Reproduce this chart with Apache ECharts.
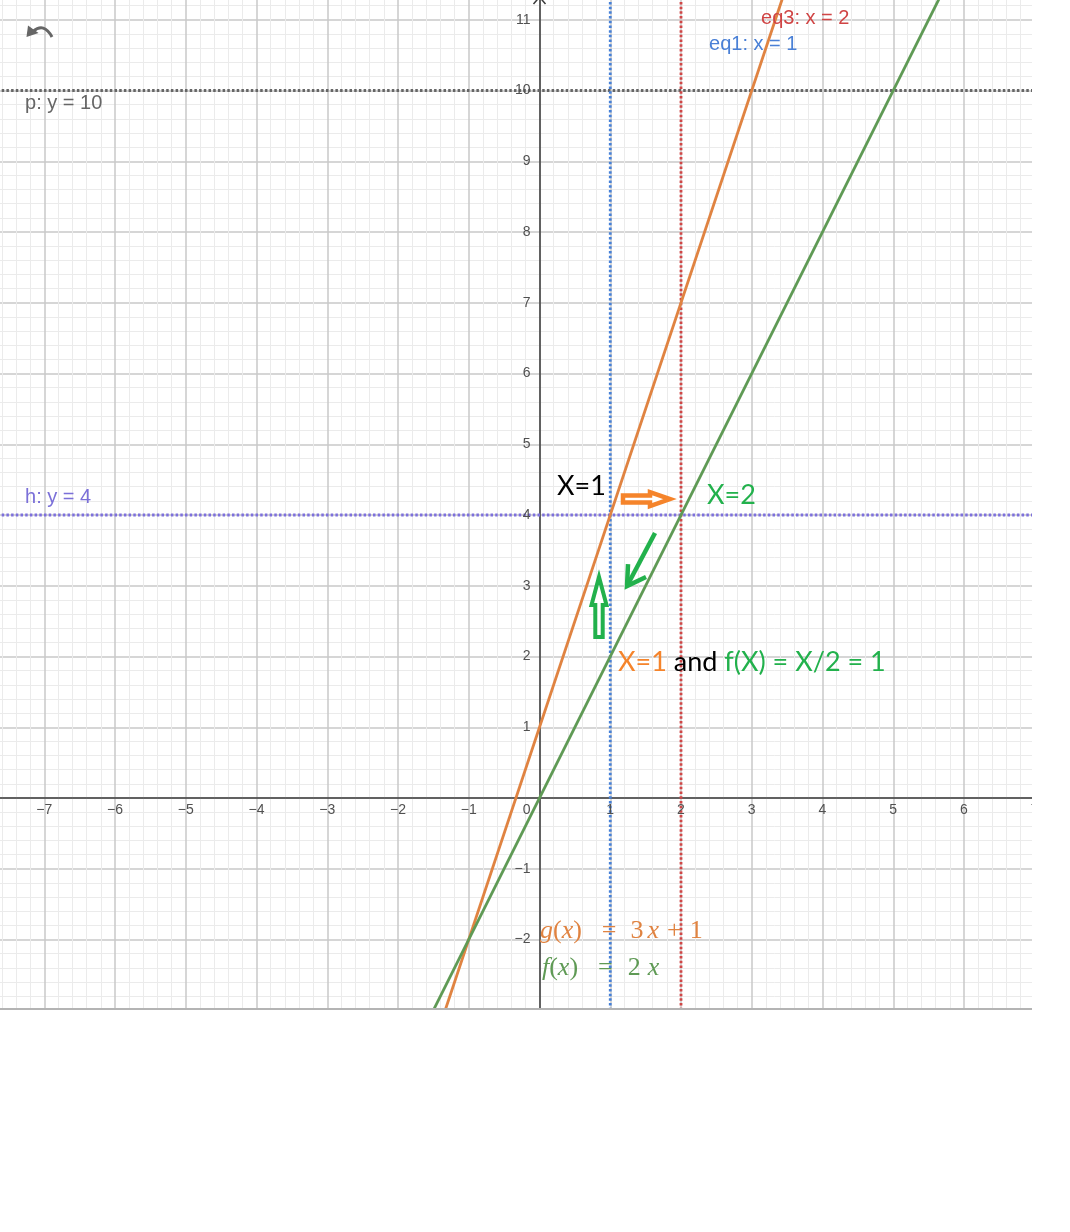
<!DOCTYPE html>
<html><head><meta charset="utf-8">
<script src="https://cdn.jsdelivr.net/npm/echarts@6/dist/echarts.min.js"></script>
<style>
html,body{margin:0;padding:0;background:#fff;}
#chart{width:1032px;height:1008px;border-bottom:2px solid #b4b4b4;}
</style></head><body><div id="chart"></div>
<script>
// ---- data ----
const xAxisRange = [-8, 7];
const yAxisRange = [-3, 12];
const tickStep = 1;
const minorDivisions = 5;
const xTickLabels = [-7, -6, -5, -4, -3, -2, -1, 0, 1, 2, 3, 4, 5, 6, 7];
const yTickLabels = [-2, -1, 1, 2, 3, 4, 5, 6, 7, 8, 9, 10, 11];

const gPoints = [[-2, -5], [4, 13]];   // g(x) = 3x + 1
const fPoints = [[-2, -4], [6, 12]];   // f(x) = 2x
const eq1X = 1;   // eq1: x = 1
const eq3X = 2;   // eq3: x = 2
const pY = 10;    // p: y = 10
const hY = 4;     // h: y = 4

// ---- layout ----
const UNIT = 70.75, OX = 539.5, OY = 798;
const chart = echarts.init(document.getElementById('chart'));
const minus = v => String(v).replace('-', '\u2212');
const dots = [2.5, 2.2];

function vline(x) { return [[x, yAxisRange[0]], [x, yAxisRange[1]]]; }
function hline(y) { return [[xAxisRange[0], y], [xAxisRange[1], y]]; }
function lineSeries(data, color, type, width, z) {
  return { type: 'line', data, symbol: 'none', silent: true, z,
    lineStyle: { color, width, type, cap: 'butt' } };
}
const axisCommon = {
  type: 'value', interval: tickStep,
  axisLine: { onZero: true, lineStyle: { color: '#3a3a3a', width: 1.5 } },
  axisTick: { show: false },
  axisLabel: { show: false },
  minorTick: { show: false, splitNumber: minorDivisions },
  splitLine: { show: true, lineStyle: { color: '#c8c8c8', width: 1.5 } },
  minorSplitLine: { show: true, lineStyle: { color: '#ebebeb', width: 1 } }
};

chart.setOption({
  animation: false,
  backgroundColor: '#fff',
  grid: {
    left: OX + xAxisRange[0] * UNIT, top: OY - yAxisRange[1] * UNIT,
    width: (xAxisRange[1] - xAxisRange[0]) * UNIT,
    height: (yAxisRange[1] - yAxisRange[0]) * UNIT,
    containLabel: false, outerBoundsMode: 'none'
  },
  xAxis: Object.assign({}, axisCommon, { min: xAxisRange[0], max: xAxisRange[1] }),
  yAxis: Object.assign({}, axisCommon, { min: yAxisRange[0], max: yAxisRange[1] }),
  series: [
    lineSeries(hline(pY), '#666666', dots, 2.8, 2),
    lineSeries(hline(hY), '#7d70dc', dots, 2.8, 2),
    lineSeries(vline(eq1X), '#4680d8', dots, 2.8, 2),
    lineSeries(vline(eq3X), '#d04646', dots, 2.8, 2),
    lineSeries(gPoints, '#e08341', 'solid', 2.8, 3),
    lineSeries(fPoints, '#5f9a55', 'solid', 2.8, 3)
  ]
});

// ---- tick labels & annotations (anchored in data coordinates) ----
const P = pt => chart.convertToPixel({ gridIndex: 0 }, pt);
const sans = 'Liberation Sans';
const hand = 'Lato';
const tickColor = '#505050';
const graphics = [];

xTickLabels.forEach(v => {
  const [x, y] = P([v, 0]);
  graphics.push({ type: 'text', x: v === 0 ? x - 9 : x, y: y + 5, z: 90, silent: true,
    style: { text: minus(v), fill: tickColor, fontSize: 14, fontFamily: sans,
      align: v === 0 ? 'right' : 'center', verticalAlign: 'top' } });
});
yTickLabels.forEach(v => {
  const [x, y] = P([0, v]);
  graphics.push({ type: 'text', x: x - 9, y, z: 90, silent: true,
    style: { text: minus(v), fill: tickColor, fontSize: 14, fontFamily: sans,
      align: 'right', verticalAlign: 'middle' } });
});

function txt(pt, text, fill, size, family) {
  const [x, y] = P(pt);
  return { type: 'text', x, y, z: 100, silent: true,
    style: { text, fill, fontSize: size, fontFamily: family, align: 'left', verticalAlign: 'middle' } };
}
const orange = '#f5842b', paintGreen = '#22b14c';
const serifR = (c, pad) => ({ fill: c, fontSize: 26, fontFamily: 'Liberation Serif', padding: [0, 0, 0, pad || 0] });
const serifI = (c, pad) => ({ fill: c, fontSize: 26, fontFamily: 'Liberation Serif', fontStyle: 'italic', padding: [0, 0, 0, pad || 0] });

const o = P([0, 0]);
const aT = P([1.180, 4.225]);        // orange arrow tail
const dA = P([1.633, 3.746]), dB = P([1.237, 2.996]); // diagonal arrow
const uB = P([0.841, 2.275]);        // up arrow bottom

graphics.push(
  txt([-7.272, 9.823], 'p: y = 10', '#666', 20, sans),
  txt([-7.272, 4.254], 'h: y = 4', '#7b70d8', 20, sans),
  txt([3.131, 11.011], 'eq3: x = 2', '#d04545', 20, sans),
  txt([2.396, 10.657], 'eq1: x = 1', '#4a80d6', 20, sans),
  txt([0.247, 4.410], 'X=1', '#000', 27, hand),
  txt([2.367, 4.283], 'X=2', paintGreen, 27, hand),
  (function () {
    const [x, y] = P([1.110, 1.922]);
    return { type: 'text', x, y, z: 100, silent: true, style: {
      text: '{a|X=1}{b| and }{c|f(X) = X/2 = 1}', align: 'left', verticalAlign: 'middle',
      fontSize: 27, fontFamily: hand,
      rich: { a: { fill: orange, fontSize: 27, fontFamily: hand },
              b: { fill: '#000', fontSize: 27, fontFamily: hand },
              c: { fill: paintGreen, fontSize: 27, fontFamily: hand } } } };
  })(),
  (function () {
    const [x, y] = P([0.007, -1.885]);
    const c = '#e08341';
    return { type: 'text', x, y, z: 100, silent: true, style: {
      text: '{i|g}{r|(}{i|x}{r|)}{e|=}{r3|3}{ix|x}{p|+}{r1|1}', align: 'left', verticalAlign: 'middle',
      rich: { i: serifI(c), r: serifR(c), e: serifR(c, 20), r3: serifR(c, 14), ix: serifI(c, 4),
              p: serifR(c, 8), r1: serifR(c, 8) } } };
  })(),
  (function () {
    const [x, y] = P([0.035, -2.403]);
    const c = '#5f9a55';
    return { type: 'text', x, y, z: 100, silent: true, style: {
      text: '{i|f}{r|(}{i|x}{r|)}{e|=}{r2|2}{ix|x}', align: 'left', verticalAlign: 'middle',
      rich: { i: serifI(c), r: serifR(c), e: serifR(c, 20), r2: serifR(c, 15), ix: serifI(c, 7) } } };
  })(),
  // orange outline arrow (right)
  { type: 'polygon', z: 100, silent: true, x: aT[0], y: aT[1],
    shape: { points: [[0, -3.5], [27, -3.5], [27, -7], [47, 0], [27, 7], [27, 3.5], [0, 3.5]] },
    style: { fill: '#fff', stroke: orange, lineWidth: 4.5, lineJoin: 'miter' } },
  // green diagonal arrow
  { type: 'line', z: 100, silent: true, shape: { x1: dA[0], y1: dA[1], x2: dB[0], y2: dB[1] },
    style: { stroke: paintGreen, lineWidth: 4.5 } },
  { type: 'polyline', z: 100, silent: true, shape: { points: [[dB[0] + 1, dB[1] - 22], [dB[0], dB[1]], [dB[0] + 19, dB[1] - 9]] },
    style: { stroke: paintGreen, lineWidth: 4.5, fill: null, lineJoin: 'miter' } },
  // green outline up arrow
  { type: 'polygon', z: 100, silent: true, x: uB[0], y: uB[1],
    shape: { points: [[-3.7, 0], [-3.7, -32], [-7.5, -32], [0, -60], [7.5, -32], [3.7, -32], [3.7, 0]] },
    style: { fill: '#fff', stroke: paintGreen, lineWidth: 4, lineJoin: 'miter' } },
  // y-axis arrow head at top edge
  { type: 'polyline', z: 100, silent: true, shape: { points: [[o[0] - 6, 4], [o[0], -3], [o[0] + 6, 4]] },
    style: { stroke: '#3a3a3a', lineWidth: 1.5, fill: null } },
  // undo icon
  { type: 'bezierCurve', z: 100, silent: true, shape: { x1: 33, y1: 31.5, cpx1: 44, cpy1: 22, x2: 52, y2: 37 },
    style: { stroke: '#666', lineWidth: 3, fill: null } },
  { type: 'polygon', z: 100, silent: true, shape: { points: [[26.5, 37], [28, 25.5], [38.5, 33]] },
    style: { fill: '#666' } }
);
chart.setOption({ graphic: graphics });
</script></body></html>
